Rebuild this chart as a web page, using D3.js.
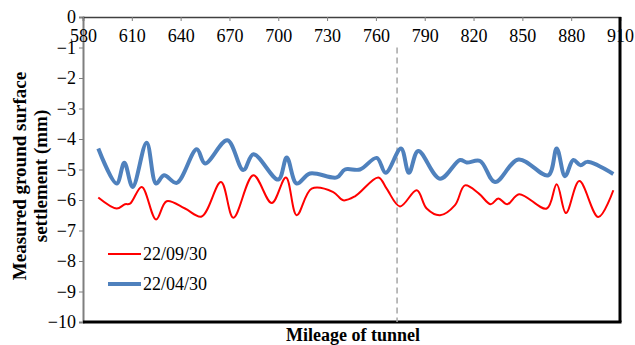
<!DOCTYPE html>
<html>
<head>
<meta charset="utf-8">
<script src="https://cdn.jsdelivr.net/npm/d3@7"></script>
<style>
  body { margin: 0; background: #fff; }
</style>
</head>
<body>
<div id="chart"></div>
<script>
// data (mileage, settlement in mm)
const sepMileage = [589.4, 600.7, 605.8, 608.9, 616.1, 624.9, 631.4, 642.7, 652.9, 664.8, 672.4, 684.7, 696.0, 704.7, 711.3, 720.5, 733.8, 739.9, 747.1, 761.5, 766.6, 774.8, 785.1, 791.2, 799.4, 808.6, 814.7, 823.3, 830.5, 835.2, 840.7, 848.0, 865.0, 871.1, 876.8, 885.0, 896.7, 905.9];
const sepValues  = [-5.92, -6.28, -6.14, -6.12, -5.57, -6.64, -6.04, -6.28, -6.54, -5.41, -6.58, -5.19, -6.10, -5.26, -6.50, -5.63, -5.74, -6.01, -5.88, -5.26, -5.63, -6.21, -5.68, -6.28, -6.50, -6.17, -5.52, -5.79, -6.14, -5.95, -6.14, -5.81, -6.28, -5.48, -6.43, -5.38, -6.56, -5.68];

const aprMileage = [589.4, 600.7, 605.4, 610.5, 619.1, 624.9, 629.8, 637.6, 649.9, 655.0, 668.7, 678.5, 684.7, 700.0, 705.2, 711.3, 719.5, 735.9, 741.0, 750.2, 760.5, 766.0, 775.4, 780.3, 786.0, 799.4, 811.7, 815.8, 824.0, 833.2, 847.6, 865.9, 871.1, 876.2, 881.3, 885.8, 889.9, 905.9];
const aprValues  = [-4.31, -5.46, -4.78, -5.57, -4.12, -5.46, -5.19, -5.44, -4.34, -4.80, -4.04, -5.02, -4.50, -5.33, -4.61, -5.46, -5.13, -5.26, -5.00, -5.00, -4.62, -5.11, -4.31, -5.11, -4.39, -5.30, -4.69, -4.77, -4.72, -5.41, -4.67, -5.19, -4.31, -5.22, -4.69, -4.86, -4.75, -5.15];

const seriesNames = ["22/09/30", "22/04/30"];
const xTicks = [580, 610, 640, 670, 700, 730, 760, 790, 820, 850, 880, 910];
const yTicks = [0, -1, -2, -3, -4, -5, -6, -7, -8, -9, -10];
const markerMileage = 773;

const serif = "'Liberation Serif', 'Times New Roman', serif";

const width = 635, height = 345;
const margin = { top: 17, right: 15, bottom: 23, left: 83 };
const plotW = 620 - margin.left;
const plotH = 322 - margin.top;

const svg = d3.select('#chart').append('svg')
    .attr('width', width)
    .attr('height', height);

const g = svg.append('g')
    .attr('transform', 'translate(' + margin.left + ',' + margin.top + ')');

const x = d3.scaleLinear().domain([580, 910]).range([0, plotW]);
const y = d3.scaleLinear().domain([0, -10]).range([0, plotH]);

// left axis
const yAxis = d3.axisLeft(y).tickValues(yTicks).tickSize(4).tickPadding(3)
    .tickFormat(d3.format('d'));
const yG = g.append('g').call(yAxis);
yG.select('.domain').attr('stroke', '#7f7f7f').attr('stroke-width', 2);
yG.selectAll('.tick line').attr('stroke', '#7f7f7f');
yG.selectAll('.tick text').attr('fill', '#000')
    .style('font-family', serif).style('font-size', '18px');

// top axis (crosses at 0), ticks point into the plot
const xAxis = d3.axisBottom(x).tickValues(xTicks).tickSize(4).tickPadding(8)
    .tickFormat(d3.format('d'));
const xG = g.append('g').call(xAxis);
xG.select('.domain').attr('stroke', '#404040').attr('stroke-width', 1.5);
xG.selectAll('.tick line').attr('stroke', '#7f7f7f');
xG.selectAll('.tick text').attr('fill', '#000')
    .style('font-family', serif).style('font-size', '18px');

// bottom and right borders
g.append('line').attr('x1', 0).attr('x2', plotW + 1.5).attr('y1', plotH).attr('y2', plotH)
    .attr('stroke', '#000').attr('stroke-width', 3);
g.append('line').attr('x1', plotW).attr('x2', plotW).attr('y1', 0).attr('y2', plotH)
    .attr('stroke', '#000').attr('stroke-width', 3);

// dashed marker
g.append('line')
    .attr('x1', x(markerMileage)).attr('x2', x(markerMileage))
    .attr('y1', y(-1)).attr('y2', y(-10))
    .attr('stroke', '#a6a6a6').attr('stroke-width', 1.5)
    .attr('stroke-dasharray', '6,4');

const line = d3.line()
    .x(d => x(d[0]))
    .y(d => y(d[1]))
    .curve(d3.curveCatmullRom.alpha(0.5));

const aprData = aprMileage.map((m, i) => [m, aprValues[i]]);
const sepData = sepMileage.map((m, i) => [m, sepValues[i]]);

g.append('path').datum(aprData).attr('d', line)
    .attr('fill', 'none').attr('stroke', '#4f81bd').attr('stroke-width', 4)
    .attr('stroke-linejoin', 'round');
g.append('path').datum(sepData).attr('d', line)
    .attr('fill', 'none').attr('stroke', '#ff0000').attr('stroke-width', 2)
    .attr('stroke-linejoin', 'round');

// legend
const legend = svg.append('g');
const legendRows = [
    { name: seriesNames[0], color: '#ff0000', w: 2, y: 254 },
    { name: seriesNames[1], color: '#4f81bd', w: 4, y: 284 }
];
legendRows.forEach(r => {
    legend.append('line').attr('x1', 108).attr('x2', 141).attr('y1', r.y).attr('y2', r.y)
        .attr('stroke', r.color).attr('stroke-width', r.w);
    legend.append('text').attr('x', 143).attr('y', r.y + 6)
        .style('font-family', serif).style('font-size', '18px').text(r.name);
});

// axis titles
svg.append('text')
    .attr('x', 353).attr('y', 341)
    .attr('text-anchor', 'middle')
    .style('font-family', serif)
    .style('font-size', '18px').style('font-weight', 'bold')
    .text('Mileage of tunnel');

const yTitle = svg.append('text')
    .attr('transform', 'translate(26,176) rotate(-90)')
    .attr('text-anchor', 'middle')
    .style('font-family', serif)
    .style('font-size', '19px').style('font-weight', 'bold');
yTitle.append('tspan').attr('x', 0).attr('dy', 0).text('Measured ground surface');
yTitle.append('tspan').attr('x', 0).attr('dy', 21).text('settlement (mm)');
</script>
</body>
</html>
